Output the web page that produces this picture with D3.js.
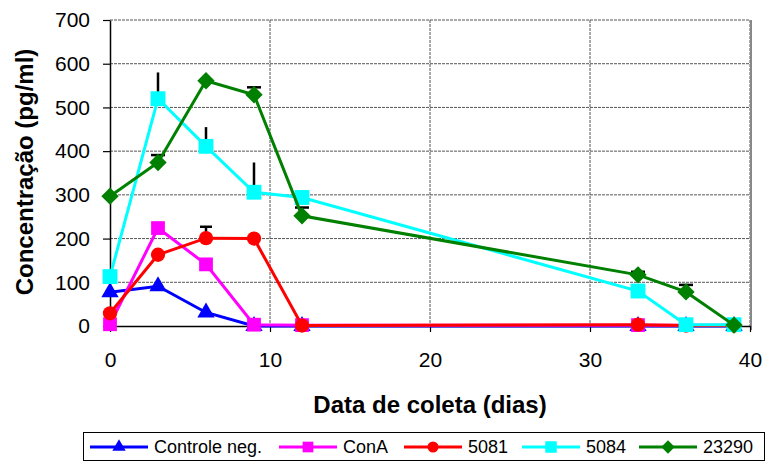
<!DOCTYPE html>
<html>
<head>
<meta charset="utf-8">
<script src="https://cdn.jsdelivr.net/npm/d3@7"></script>
<style>
body{margin:0;background:#fff;}
text{font-family:"Liberation Sans",Arial,sans-serif;}
</style>
</head>
<body>
<svg id="display" width="767" height="461"></svg>
<script>
// data
const days=[0,3,6,9,12,33,36,39];
const controle_neg=[77,91,31,0,0,0,0,0];
const conA=[4,224,141,3,2,2,2,2];
const s5081=[29,163,201,200,1,3,1,1];
const s5084=[113,520,411,306,294,80,3,3];
const s23290=[297,374,561,529,252,117,78,2];
// upper error bar sizes
const err_conA=[0,3,7,0,0,0,0,0];
const err_5081=[0,0,26,0,0,0,0,0];
const err_5084=[0,60,44,68,0,0,0,0];
const err_23290=[0,17,0,17,19,7,16,0];
const y_ticks=[0,100,200,300,400,500,600,700];
const x_ticks=[0,10,20,30,40];

const series=[
    {name:"Controle neg.",values:controle_neg,errors:null,color:"#0000ff",symbol:d3.symbolTriangle,size:130,rot:0,cap:0},
    {name:"ConA",values:conA,errors:err_conA,color:"#ff00ff",symbol:d3.symbolSquare,size:190,rot:0,cap:12},
    {name:"5081",values:s5081,errors:err_5081,color:"#ff0000",symbol:d3.symbolCircle,size:160,rot:0,cap:12},
    {name:"5084",values:s5084,errors:err_5084,color:"#00ffff",symbol:d3.symbolSquare,size:220,rot:0,cap:0},
    {name:"23290",values:s23290,errors:err_23290,color:"#008000",symbol:d3.symbolSquare,size:150,rot:45,cap:14}
];

const display=d3.select("#display");
const plot_left=110,plot_right=750,plot_top=20,plot_bottom=326;
const x=d3.scaleLinear().domain([0,40]).range([plot_left,plot_right]);
const y=d3.scaleLinear().domain([0,700]).range([plot_bottom,plot_top]);

// grid
for (const t of y_ticks){
    if (t===0) continue;
    display.append("line")
        .attr("x1",plot_left).attr("x2",plot_right)
        .attr("y1",y(t)).attr("y2",y(t))
        .attr("stroke","#555").attr("stroke-width",1)
        .attr("stroke-dasharray","3,1");
}
for (const t of x_ticks){
    if (t===0) continue;
    display.append("line")
        .attr("x1",x(t)).attr("x2",x(t))
        .attr("y1",plot_top).attr("y2",plot_bottom)
        .attr("stroke","#555").attr("stroke-width",1)
        .attr("stroke-dasharray","3,1");
}
// right border
display.append("line")
    .attr("x1",plot_right+1).attr("x2",plot_right+1)
    .attr("y1",plot_top).attr("y2",plot_bottom+4)
    .attr("stroke","#888").attr("stroke-width",2);

// axes
const y_axis=display.append("g")
    .attr("transform","translate("+plot_left+",0)")
    .call(d3.axisLeft(y).tickValues(y_ticks).tickSize(7).tickPadding(13).tickSizeOuter(0));
const x_axis=display.append("g")
    .attr("transform","translate(0,"+plot_bottom+")")
    .call(d3.axisBottom(x).tickValues(x_ticks).tickSize(6).tickPadding(20).tickSizeOuter(0));
for (const ax of [y_axis,x_axis]){
    ax.selectAll("text").style("font-size","21px").style("fill","#000")
        .style("font-family","'Liberation Sans',Arial,sans-serif");
    ax.select(".domain").attr("stroke","#000").attr("stroke-width",1.5);
    ax.selectAll(".tick line").attr("stroke","#000").attr("stroke-width",1.2);
}

// axis titles
display.append("text")
    .attr("x",430).attr("y",413)
    .style("font-size","24px").style("font-weight","bold")
    .style("text-anchor","middle")
    .text("Data de coleta (dias)");
display.append("text")
    .attr("transform","translate(33,172) rotate(-90)")
    .style("font-size","24px").style("font-weight","bold")
    .style("text-anchor","middle")
    .text("Concentração (pg/ml)");

// error bars
for (const s of series){
    if (!s.errors) continue;
    days.forEach(function(d,i){
        const e=s.errors[i];
        if (e<=0) return;
        display.append("line")
            .attr("x1",x(d)).attr("x2",x(d))
            .attr("y1",y(s.values[i])).attr("y2",y(s.values[i]+e))
            .attr("stroke","#000").attr("stroke-width",2.5);
        if (s.cap>0){
            display.append("line")
                .attr("x1",x(d)-s.cap/2).attr("x2",x(d)+s.cap/2)
                .attr("y1",y(s.values[i]+e)).attr("y2",y(s.values[i]+e))
                .attr("stroke","#000").attr("stroke-width",2.5);
        }
    });
}

// series lines and markers
const line=d3.line().x(function(d){return x(d[0]);}).y(function(d){return y(d[1]);});
for (const s of series){
    const pts=days.map(function(d,i){return [d,s.values[i]];});
    display.append("path")
        .attr("d",line(pts))
        .attr("fill","none")
        .attr("stroke",s.color)
        .attr("stroke-width",3);
    for (const p of pts){
        display.append("path")
            .attr("d",d3.symbol().type(s.symbol).size(s.size)())
            .attr("transform","translate("+x(p[0])+","+y(p[1])+") rotate("+s.rot+")")
            .attr("fill",s.color);
    }
}

// legend
const legend=display.append("g");
legend.append("rect")
    .attr("x",83.5).attr("y",432.5).attr("width",681).attr("height",28)
    .attr("fill","#fff").attr("stroke","#000").attr("stroke-width",1);
const legend_x=[90,279,404,522,639];
series.forEach(function(s,i){
    const lx=legend_x[i];
    const ly=447;
    legend.append("line")
        .attr("x1",lx).attr("x2",lx+58)
        .attr("y1",ly).attr("y2",ly)
        .attr("stroke",s.color).attr("stroke-width",3);
    legend.append("path")
        .attr("d",d3.symbol().type(s.symbol).size(s.size*0.6)())
        .attr("transform","translate("+(lx+29)+","+ly+") rotate("+s.rot+")")
        .attr("fill",s.color);
    legend.append("text")
        .attr("x",lx+64).attr("y",453)
        .style("font-size","18px")
        .text(s.name);
});
</script>
</body>
</html>
